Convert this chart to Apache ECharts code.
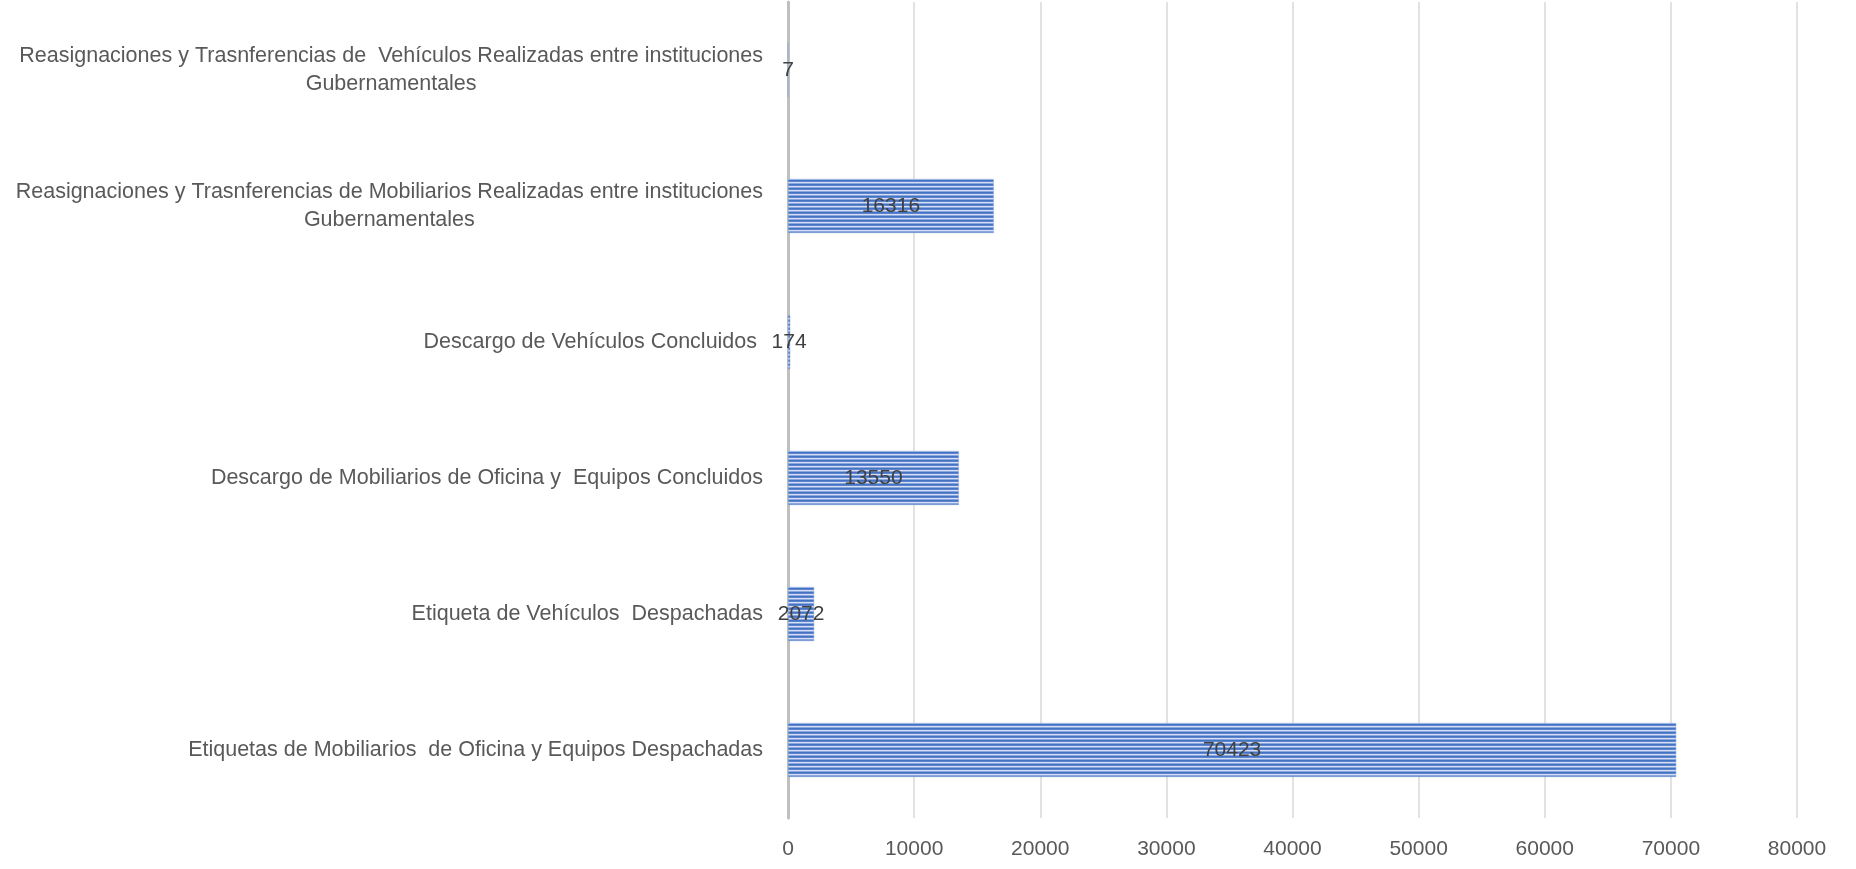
<!DOCTYPE html>
<html>
<head>
<meta charset="utf-8">
<script src="https://cdn.jsdelivr.net/npm/echarts@6/dist/echarts.min.js"></script>
<style>
  html, body {margin: 0; padding: 0; background: #fff;}
  #chart {width: 1856px; height: 869px;}
</style>
</head>
<body>
<div id="chart"></div>
<script>
  // categories, bottom to top
  const categories = [
    'Etiquetas de Mobiliarios  de Oficina y Equipos Despachadas',
    'Etiqueta de Vehículos  Despachadas',
    'Descargo de Mobiliarios de Oficina y  Equipos Concluidos',
    'Descargo de Vehículos Concluidos ',
    'Reasignaciones y Trasnferencias de Mobiliarios Realizadas entre instituciones\nGubernamentales',
    'Reasignaciones y Trasnferencias de  Vehículos Realizadas entre instituciones\nGubernamentales',
  ];
  const values = [70423, 2072, 13550, 174, 16316, 7];
  const xTicks = [0, 10000, 20000, 30000, 40000, 50000, 60000, 70000, 80000];

  const font = '"Liberation Sans", Arial, sans-serif';

  // striped fill like the excel pattern
  const stripe = document.createElement('canvas');
  stripe.width = 4;
  stripe.height = 4;
  const ctx = stripe.getContext('2d');
  ['#4472c4', '#5b84cc', '#d6e0f3', '#8aa6dc'].forEach((c, i) => {
    ctx.fillStyle = c;
    ctx.fillRect(0, i, 4, 1);
  });

  const myChart = echarts.init(document.getElementById('chart'));
  myChart.setOption({
    animation: false,
    grid: {left: 788, right: 59, top: 2, bottom: 51, containLabel: false},
    xAxis: {
      type: 'value',
      min: xTicks[0],
      max: xTicks[xTicks.length - 1],
      interval: xTicks[1] - xTicks[0],
      axisLine: {show: false},
      axisTick: {show: false},
      splitLine: {lineStyle: {color: '#d9d9d9', width: 1.5}},
      axisLabel: {
        color: '#595959', fontSize: 21, fontFamily: font, margin: 21,
        formatter: v => String(v),
      },
    },
    yAxis: {
      type: 'category',
      data: categories,
      axisLine: {lineStyle: {color: '#bfbfbf', width: 3}},
      axisTick: {show: false},
      axisLabel: {
        color: '#595959',
        fontSize: 21.5,
        fontFamily: font,
        margin: 25,
        lineHeight: 28,
        formatter: v => v.split('\n').map(s => '{c|' + s + '}').join('\n'),
        rich: {c: {align: 'center', color: '#595959', fontSize: 21.5, fontFamily: font, lineHeight: 28}},
      },
    },
    series: [{
      type: 'bar',
      data: values,
      barWidth: 54,
      itemStyle: {
        color: {image: stripe, repeat: 'repeat'},
        borderColor: '#8faadc',
        borderWidth: 0.5,
      },
      label: {
        show: true,
        position: 'inside',
        color: '#404040',
        fontSize: 21,
        fontFamily: font,
      },
    }],
  });
</script>
</body>
</html>
